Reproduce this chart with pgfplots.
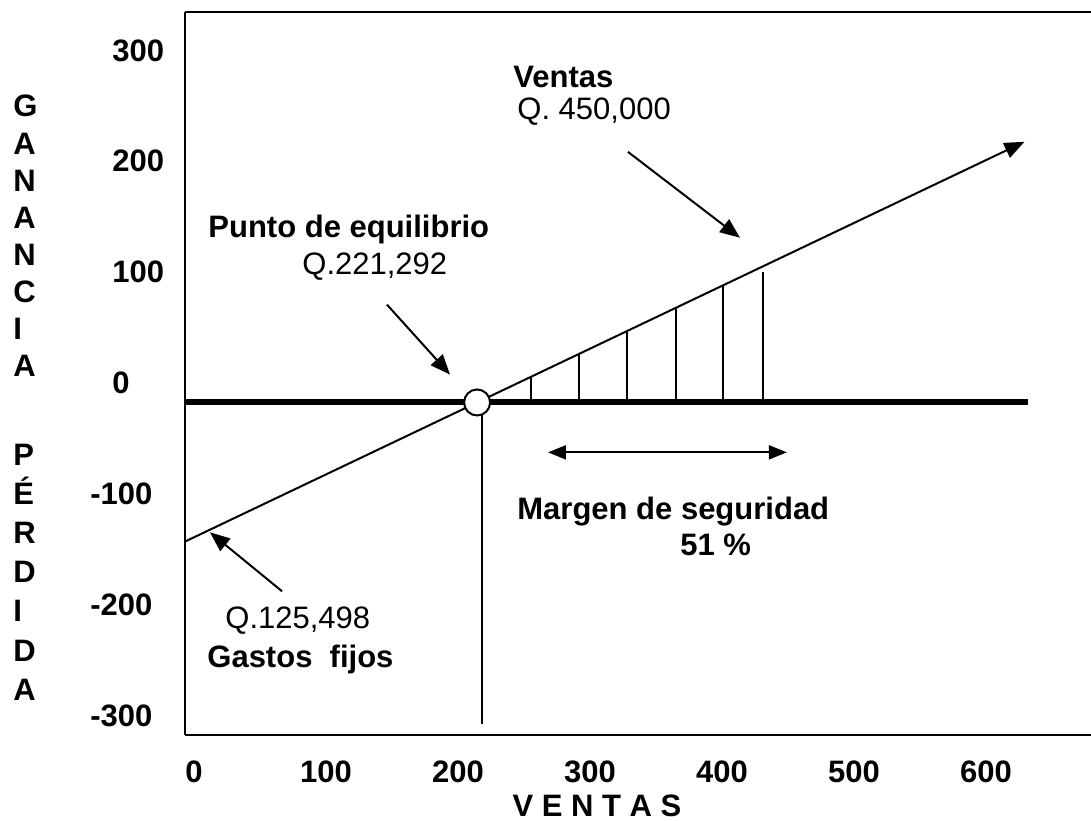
\documentclass[border=0pt]{standalone}
\usepackage{fontspec}
\setmainfont{Liberation Sans}
\usepackage{pgfplots}
\pgfplotsset{compat=1.18}
\usetikzlibrary{arrows.meta}
\newcommand{\lbl}{\fontsize{15.5}{18}\selectfont}
\begin{document}
\begin{tikzpicture}
\useasboundingbox (0,0) rectangle (545.5pt,410pt);
\begin{axis}[
  at={(92.5pt,42.5pt)}, anchor=south west,
  scale only axis, width=453pt, height=361.5pt,
  xmin=0, xmax=686.4, ymin=-300, ymax=352.3,
  axis x line*=box, axis y line*=left,
  axis line style={line width=0.9pt, black},
  clip=false,
  major tick length=0pt,
  xtick={0,100,200,300,400,500,600},
  xticklabels={0,100,200,300,400,500,600},
  ytick={-300,-200,-100,0,100,200,300},
  yticklabels={{\hspace*{-11pt}-300},{\hspace*{-11pt}-200},{\hspace*{-11pt}-100},0,100,200,300},
  xticklabel pos=left, yticklabel pos=left,
  ticklabel style={font=\lbl\bfseries, inner sep=0pt},
  xticklabel style={anchor=north, yshift=-12.5pt, xshift=4.5pt},
  yticklabel style={anchor=west, xshift=-36.5pt, yshift=9.75pt},
]
% zero line
\addplot[line width=3pt, black] coordinates {(0,0) (639,0)};
% sales line
\addplot[line width=1pt, black, -{Triangle[length=10pt,width=8pt]}] coordinates {(0,-125.498) (636,235.2)};
% vertical line at break-even
\addplot[line width=0.9pt, black] coordinates {(225,0) (225,-290)};
% hatch lines (margen de seguridad)
\addplot[ycomb, line width=0.9pt, black] coordinates {(262,23) (298.5,44) (335,64) (372,85) (407.6,105) (438,118)};
% break-even point
\addplot[only marks, mark=*, mark size=6.5pt, mark options={fill=white, draw=black, line width=1pt}] coordinates {(221.292,0)};
% annotation arrows
\draw[line width=1pt, {Triangle[length=9pt,width=7pt]}-{Triangle[length=9pt,width=7pt]}] (axis cs:275,-45) -- (axis cs:456,-45);
\draw[line width=1pt, -{Triangle[length=10pt,width=8pt]}] (axis cs:335.6,226.1) -- (axis cs:420.5,148.6);
\draw[line width=1pt, -{Triangle[length=10pt,width=8pt]}] (axis cs:153.0,88.3) -- (axis cs:200.8,25.2);
\draw[line width=1pt, -{Triangle[length=10pt,width=8pt]}] (axis cs:73.5,-170.3) -- (axis cs:18.9,-117.1);
\end{axis}
% texts
\begin{scope}[every node/.style={inner sep=0pt, anchor=base west, font=\lbl}]
\node[font=\lbl\bfseries] at (256.5pt,366pt) {Ventas};
\node at (258.5pt,350pt) {Q. 450,000};
\node[font=\lbl\bfseries] at (104pt,291pt) {Punto de equilibrio};
\node at (151pt,272.5pt) {Q.221,292};
\node[font=\lbl\bfseries] at (258.5pt,150.5pt) {Margen de seguridad};
\node[font=\lbl\bfseries] at (340pt,132.5pt) {51 \%};
\node at (112.5pt,96pt) {Q.125,498};
\node[font=\lbl\bfseries] at (103.5pt,76.5pt) {Gastos\ \ fijos};
\node[font=\lbl\bfseries, anchor=base] at (298.5pt,2pt) {V E N T A S};
\foreach \l [count=\i from 0] in {G,A,N,A,N,C,I,A}
  \node[font=\lbl\bfseries] at (6.5pt,{(351.5-18.55*\i)*1pt}) {\l};
\foreach \l [count=\i from 0] in {P,É,R,D,I,D,A}
  \node[font=\lbl\bfseries] at (6.5pt,{(177.5-19.6*\i)*1pt}) {\l};
\end{scope}
\end{tikzpicture}
\end{document}
